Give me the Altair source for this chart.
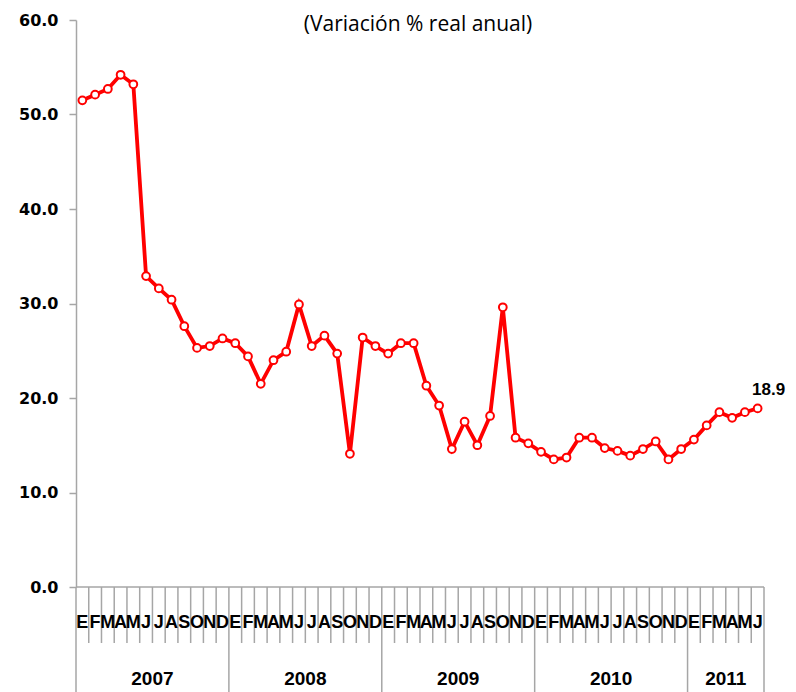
import altair as alt
import pandas as pd

months = ["E", "F", "M", "A", "M", "J", "J", "A", "S", "O", "N", "D"]
years = ["2007", "2008", "2009", "2010", "2011"]
months_per_year = [12, 12, 12, 12, 6]
values = [51.5, 52.1, 52.7, 54.2, 53.2, 32.9, 31.6, 30.4, 27.6, 25.3, 25.5, 26.3,
          25.8, 24.4, 21.5, 24.0, 24.9, 29.9, 25.5, 26.6, 24.7, 14.1, 26.4, 25.5,
          24.7, 25.8, 25.8, 21.3, 19.2, 14.6, 17.5, 15.0, 18.1, 29.6, 15.8, 15.2,
          14.3, 13.5, 13.7, 15.8, 15.8, 14.7, 14.4, 13.9, 14.6, 15.4, 13.5, 14.6,
          15.6, 17.1, 18.5, 17.9, 18.5, 18.9]
title_text = "(Variación % real anual)"

W, H = 688, 567
GRAY = "#A6A6A6"

# build tables
rows = []
i = 0
for yr, n in zip(years, months_per_year):
    for m in range(n):
        rows.append({"pos": i + 0.5, "value": values[i], "month": months[m], "year": yr})
        i += 1
df = pd.DataFrame(rows)
N = len(df)

year_bounds = [0]
for n in months_per_year:
    year_bounds.append(year_bounds[-1] + n)
month_bounds = [b for b in range(N + 1) if b not in year_bounds]
year_centers = [(year_bounds[k] + year_bounds[k + 1]) / 2 for k in range(len(years))]

df_mb = pd.DataFrame({"b": month_bounds})
df_yb = pd.DataFrame({"b": year_bounds})
df_yc = pd.DataFrame({"c": year_centers, "year": years})
df_last = df.tail(1)
df_axis = pd.DataFrame({"a": [0], "b": [N]})
df_title = pd.DataFrame({"t": [title_text]})

xscale = alt.Scale(domain=[0, N], nice=False, zero=False)
yscale = alt.Scale(domain=[0, 60], nice=False)

base = alt.Chart(df)

line = base.mark_line(color="#FF0000", strokeWidth=3.8).encode(
    x=alt.X("pos:Q", scale=xscale, axis=None),
    y=alt.Y("value:Q", scale=yscale,
            axis=alt.Axis(values=[0, 10, 20, 30, 40, 50, 60], format=".1f", title=None,
                          grid=False, domainColor=GRAY, domainWidth=1.5, tickColor=GRAY,
                          tickWidth=1.5, tickSize=7, labelPadding=11,
                          labelFont="DejaVu Sans", labelFontSize=16, labelFontWeight="bold",
                          labelColor="black")),
)

points = base.mark_point(shape="circle", filled=True, fill="white", stroke="#FF0000",
                         strokeWidth=2, size=60, opacity=1).encode(
    x=alt.X("pos:Q", scale=xscale, axis=None),
    y=alt.Y("value:Q", scale=yscale),
)

hline = alt.Chart(df_axis).mark_rule(color=GRAY, strokeWidth=1.5).encode(
    x=alt.X("a:Q", scale=xscale, axis=None), x2="b:Q", y=alt.value(H)
)

mticks = alt.Chart(df_mb).mark_rule(color=GRAY, strokeWidth=1.5).encode(
    x=alt.X("b:Q", scale=xscale, axis=None), y=alt.value(H), y2=alt.value(H + 56)
)

yticks = alt.Chart(df_yb).mark_rule(color=GRAY, strokeWidth=1.5).encode(
    x=alt.X("b:Q", scale=xscale, axis=None), y=alt.value(H), y2=alt.value(H + 120)
)

mlabels = base.mark_text(font="Liberation Sans", fontSize=18, fontWeight="bold",
                         color="black", baseline="middle").encode(
    x=alt.X("pos:Q", scale=xscale, axis=None), y=alt.value(H + 36), text="month:N"
)

ylabels = alt.Chart(df_yc).mark_text(font="Liberation Sans", fontSize=19, fontWeight="bold",
                                     color="black", baseline="middle").encode(
    x=alt.X("c:Q", scale=xscale, axis=None), y=alt.value(H + 92), text="year:N"
)

endlabel = alt.Chart(df_last).mark_text(font="Liberation Sans", fontSize=17, fontWeight="bold",
                                        color="black", align="center", baseline="bottom",
                                        dx=11, dy=-9).encode(
    x=alt.X("pos:Q", scale=xscale, axis=None),
    y=alt.Y("value:Q", scale=yscale),
    text=alt.Text("value:Q", format=".1f"),
)

title = alt.Chart(df_title).mark_text(font="Open Sans", fontSize=21, color="black",
                                      baseline="middle", align="center").encode(
    x=alt.value(342), y=alt.value(5), text="t:N"
)

chart = alt.layer(hline, mticks, yticks, mlabels, ylabels, line, points, endlabel, title).properties(
    width=W, height=H,
    autosize=alt.AutoSizeParams(type="none"),
    padding={"left": 68, "top": 12, "right": 24, "bottom": 105},
).configure_view(stroke=None)

chart.save("out.html", embed_options={"renderer": "svg", "actions": False})
